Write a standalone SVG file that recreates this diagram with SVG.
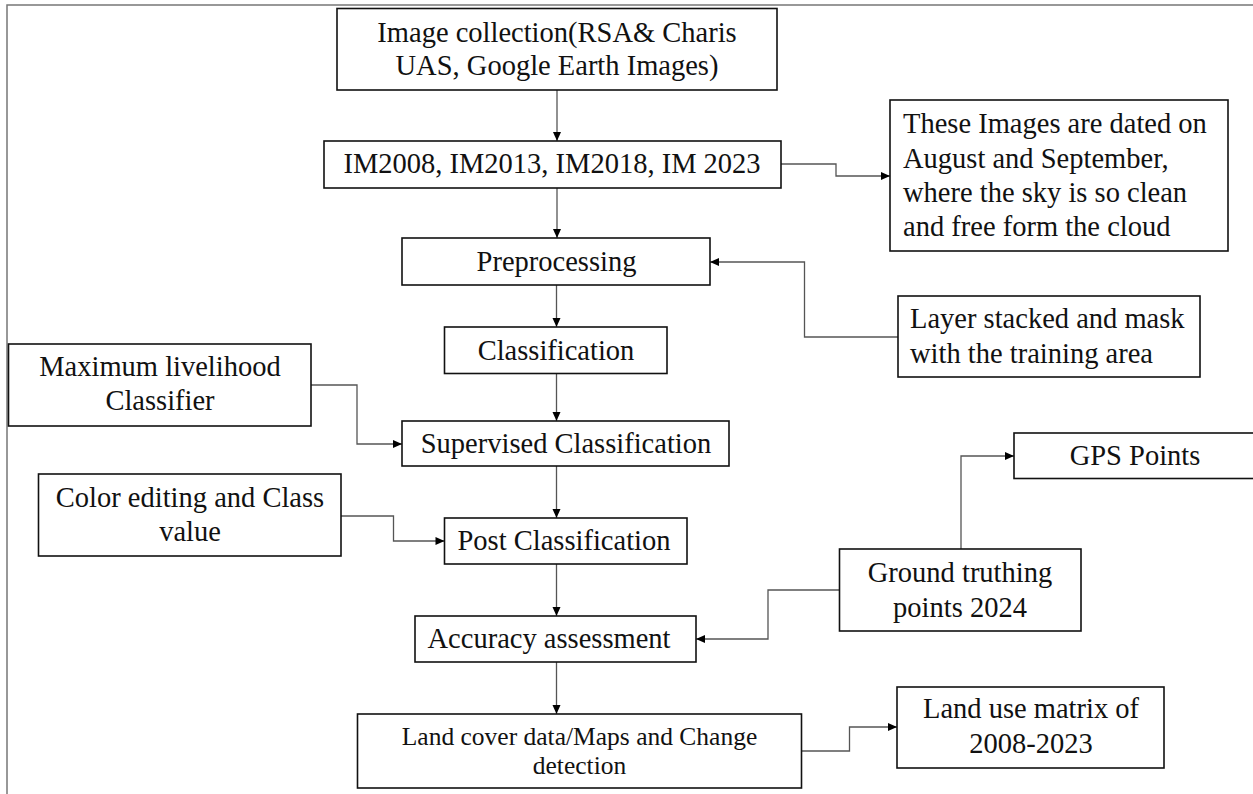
<svg xmlns="http://www.w3.org/2000/svg" width="1253" height="794" viewBox="0 0 1253 794">
<style>
.box{fill:#fff;stroke:#111;stroke-width:1.6}
.t{font-family:"Liberation Serif","Times New Roman",serif;font-size:28.5px;fill:#111}
.c{text-anchor:middle}
.s{font-size:25.5px}
.ln{fill:none;stroke:#555;stroke-width:1.3}
.frame{fill:none;stroke:#777;stroke-width:1.5}
</style>
<defs>
<marker id="ah" markerUnits="userSpaceOnUse" markerWidth="12" markerHeight="12" viewBox="0 0 12 12" refX="10" refY="6" orient="auto">
<path d="M1,2 L10,6 L1,10 Z" fill="#000"/>
</marker>
</defs>
<polyline class="frame" points="7,794 7,5 1253,5"/>
<g id="connectors">
<path class="ln" d="M557,90 V141" marker-end="url(#ah)"/>
<path class="ln" d="M557,188 V238" marker-end="url(#ah)"/>
<path class="ln" d="M781,164 H836 V176 H890" marker-end="url(#ah)"/>
<path class="ln" d="M898,337 H804.5 V262 H710" marker-end="url(#ah)"/>
<path class="ln" d="M556.5,285 V327" marker-end="url(#ah)"/>
<path class="ln" d="M556.5,373.5 V421" marker-end="url(#ah)"/>
<path class="ln" d="M311,385 H357 V444 H402" marker-end="url(#ah)"/>
<path class="ln" d="M556.5,466 V518" marker-end="url(#ah)"/>
<path class="ln" d="M341,516 H393.5 V541 H444.5" marker-end="url(#ah)"/>
<path class="ln" d="M556.5,564 V616" marker-end="url(#ah)"/>
<path class="ln" d="M839.5,590 H768 V639 H696" marker-end="url(#ah)"/>
<path class="ln" d="M556.5,662 V714" marker-end="url(#ah)"/>
<path class="ln" d="M802,751 H849.5 V727 H897" marker-end="url(#ah)"/>
<path class="ln" d="M961,549 V456 H1014" marker-end="url(#ah)"/>
</g>
<g id="image-collection">
<rect class="box" x="337" y="8.5" width="440" height="81.5"/>
<text class="t c" x="557" y="42">Image collection(RSA&amp; Charis</text>
<text class="t c" x="557" y="75">UAS, Google Earth Images)</text>
</g>
<g id="im-years">
<rect class="box" x="324" y="141" width="457" height="47"/>
<text class="t c" x="552" y="173">IM2008, IM2013, IM2018, IM 2023</text>
</g>
<g id="dates-note">
<rect class="box" x="890" y="100" width="338" height="151"/>
<text class="t" x="903" y="133">These Images are dated on</text>
<text class="t" x="903" y="168">August and September,</text>
<text class="t" x="903" y="202">where the sky is so clean</text>
<text class="t" x="903" y="236">and free form the cloud</text>
</g>
<g id="preprocessing">
<rect class="box" x="402" y="238" width="308" height="47"/>
<text class="t c" x="556.5" y="271">Preprocessing</text>
</g>
<g id="layer-stack">
<rect class="box" x="898" y="296" width="302" height="81"/>
<text class="t" x="910" y="328">Layer stacked and mask</text>
<text class="t" x="910" y="363">with the training area</text>
</g>
<g id="classification">
<rect class="box" x="444.5" y="327" width="222.5" height="46.5"/>
<text class="t c" x="556" y="360">Classification</text>
</g>
<g id="max-likelihood">
<rect class="box" x="8.5" y="344" width="302.5" height="82"/>
<text class="t c" x="160" y="376">Maximum livelihood</text>
<text class="t c" x="160" y="410">Classifier</text>
</g>
<g id="supervised">
<rect class="box" x="402" y="421" width="327" height="45"/>
<text class="t c" x="566" y="453">Supervised Classification</text>
</g>
<g id="color-editing">
<rect class="box" x="38.5" y="474" width="302.5" height="82"/>
<text class="t c" x="190" y="507">Color editing and Class</text>
<text class="t c" x="190" y="541">value</text>
</g>
<g id="post-classification">
<rect class="box" x="444.5" y="518" width="242.5" height="46"/>
<text class="t c" x="564" y="550">Post Classification</text>
</g>
<g id="gps">
<rect class="box" x="1014" y="433" width="250" height="45.5"/>
<text class="t c" x="1135" y="465">GPS Points</text>
</g>
<g id="ground-truthing">
<rect class="box" x="839.5" y="549" width="241.5" height="82"/>
<text class="t c" x="960" y="582">Ground truthing</text>
<text class="t c" x="960" y="617">points 2024</text>
</g>
<g id="accuracy">
<rect class="box" x="415" y="616" width="281" height="46"/>
<text class="t c" x="549" y="648">Accuracy assessment</text>
</g>
<g id="land-cover">
<rect class="box" x="357.5" y="714" width="444" height="74"/>
<text class="t s c" x="579.5" y="745">Land cover data/Maps and Change</text>
<text class="t s c" x="579.5" y="774">detection</text>
</g>
<g id="land-use">
<rect class="box" x="897" y="687" width="267" height="81"/>
<text class="t c" x="1031" y="718">Land use matrix of</text>
<text class="t c" x="1031" y="753">2008-2023</text>
</g>
</svg>
